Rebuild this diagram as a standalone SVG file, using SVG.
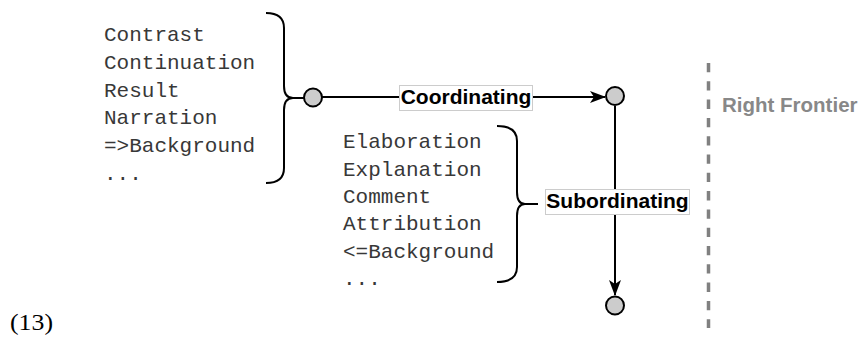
<svg xmlns="http://www.w3.org/2000/svg" width="861" height="337" viewBox="0 0 861 337">
<style>
.mono{font-family:"Liberation Mono","DejaVu Sans Mono",monospace;font-size:21px;fill:#383838}
.lbl{font-family:"Liberation Sans",Arial,sans-serif;font-size:21px;font-weight:bold;fill:#000000}
.rf{font-family:"Liberation Sans",Arial,sans-serif;font-size:20.5px;font-weight:bold;fill:#888888}
.node{fill:#cccccc;stroke:#000000;stroke-width:2}
.brace{fill:none;stroke:#000000;stroke-width:2}
.edge{fill:none;stroke:#000000;stroke-width:2}
.lblbox{fill:#ffffff;stroke:#cccccc;stroke-width:1}
</style>
<defs>
<marker id="arr" viewBox="0 0 16 12" refX="15" refY="6" markerWidth="16" markerHeight="12" markerUnits="userSpaceOnUse" orient="auto">
<path d="M0,0 L16,6 L0,12 L4,6 Z" fill="#000000"/>
</marker>
</defs>
<rect width="861" height="337" fill="#ffffff"/>
<g id="list-coordinating">
<text class="mono" x="104" y="41">Contrast</text>
<text class="mono" x="104" y="68.8">Continuation</text>
<text class="mono" x="104" y="96.6">Result</text>
<text class="mono" x="104" y="124.4">Narration</text>
<text class="mono" x="104" y="152.2">=&gt;Background</text>
<text class="mono" x="104" y="180">...</text>
<path class="brace" d="M266,13 Q284,13 284,28 L284,86 Q284,98 293,98 Q284,98 284,110 L284,168 Q284,183 266,183"/>
</g>
<g id="list-subordinating">
<text class="mono" x="343" y="148.3">Elaboration</text>
<text class="mono" x="343" y="175.6">Explanation</text>
<text class="mono" x="343" y="202.9">Comment</text>
<text class="mono" x="343" y="230.2">Attribution</text>
<text class="mono" x="343" y="257.5">&lt;=Background</text>
<text class="mono" x="343" y="284.8">...</text>
<path class="brace" d="M497,126 Q517,126 517,141 L517,192 Q517,204 525,204 Q517,204 517,216 L517,267 Q517,282 497,282"/>
</g>
<g id="connectors">
<line class="edge" x1="293" y1="98" x2="304" y2="98"/>
<line class="edge" x1="525" y1="204" x2="538" y2="204"/>
<line class="edge" x1="322" y1="97" x2="605" y2="97" marker-end="url(#arr)"/>
<line class="edge" x1="615" y1="106" x2="615" y2="295" marker-end="url(#arr)"/>
<rect class="lblbox" x="399.5" y="85.5" width="133" height="25"/>
<text class="lbl" x="466" y="104" text-anchor="middle">Coordinating</text>
<rect class="lblbox" x="545.5" y="189.5" width="144" height="25"/>
<text class="lbl" x="617.5" y="208" text-anchor="middle">Subordinating</text>
</g>
<g id="node-a"><circle class="node" cx="313" cy="97.5" r="9"/></g>
<g id="node-b"><circle class="node" cx="615" cy="96" r="9"/></g>
<g id="node-c"><circle class="node" cx="615" cy="305.5" r="9"/></g>
<g id="right-frontier">
<line x1="708.5" y1="63" x2="708.5" y2="328" stroke="#808080" stroke-width="3.5" stroke-dasharray="9.3 9"/>
<text class="rf" x="722" y="112">Right Frontier</text>
</g>
<text x="10" y="330" font-family="'Liberation Serif','Times New Roman',serif" font-size="22.5" fill="#000000" textLength="43" lengthAdjust="spacingAndGlyphs">(13)</text>
</svg>
